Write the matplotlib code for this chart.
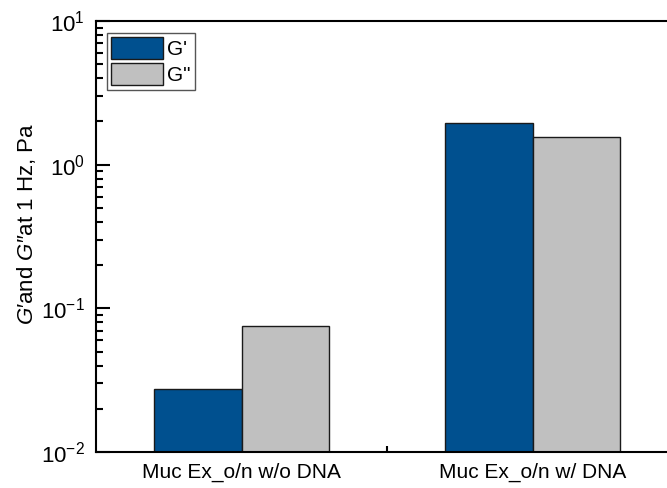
import numpy as np
import matplotlib
matplotlib.use("Agg")
import matplotlib.pyplot as plt
from matplotlib.ticker import LogLocator, FixedLocator, NullFormatter

plt.rcParams['font.family'] = ['Liberation Sans', 'DejaVu Sans']
plt.rcParams['mathtext.fontset'] = 'custom'
plt.rcParams['mathtext.rm'] = 'Liberation Sans'
plt.rcParams['mathtext.it'] = 'Liberation Sans:italic'

# Veriler
categories = ["Muc Ex_o/n w/o DNA", "Muc Ex_o/n w/ DNA"]
g_storage = [0.0275, 1.96]   # G'
g_loss = [0.0755, 1.57]      # G"
series_labels = ["G'", 'G"']

fig = plt.figure(figsize=(6.67, 4.88), dpi=100)
ax = fig.add_axes([96 / 667, 36 / 488, 582 / 667, 431 / 488])

x = np.arange(len(categories))
w = 0.3
ax.bar(x - w / 2, g_storage, width=w, color='#00508F', edgecolor='#1a1a1a',
       linewidth=1.0, label=series_labels[0], zorder=2)
ax.bar(x + w / 2, g_loss, width=w, color='#C0C0C0', edgecolor='#1a1a1a',
       linewidth=1.0, label=series_labels[1], zorder=2)

ax.set_yscale('log')
ax.set_ylim(1e-2, 1e1)
ax.set_xlim(-0.5, 1.5)

ax.set_xticks(x)
ax.set_xticklabels(categories, fontsize=15)
ax.xaxis.set_minor_locator(FixedLocator([0.5]))
ax.tick_params(axis='x', which='major', length=0, pad=8)
ax.tick_params(axis='x', which='minor', direction='in', length=4, width=1.5)

ax.yaxis.set_major_locator(LogLocator(base=10))
ax.yaxis.set_minor_locator(LogLocator(base=10, subs=np.arange(2, 10)))
ax.yaxis.set_minor_formatter(NullFormatter())
ax.tick_params(axis='y', which='major', direction='in', length=10, width=1.5,
               labelsize=16, pad=8)
ax.tick_params(axis='y', which='minor', direction='in', length=5, width=1.5)

for side in ['left', 'bottom', 'top']:
    ax.spines[side].set_linewidth(1.5)
ax.spines['right'].set_visible(False)

ax.set_ylabel("$G$\u2032and $G$\u2033at 1 Hz, Pa", fontsize=16)
ax.yaxis.set_label_coords(-0.1, 0.53)

leg = ax.legend(loc='upper left', bbox_to_anchor=(0.019, 0.972), borderaxespad=0,
                fontsize=15, fancybox=False, framealpha=1, edgecolor='#555555',
                handlelength=2.5, handleheight=1.25, labelspacing=0.2,
                borderpad=0.2, handletextpad=0.2)
leg.get_frame().set_linewidth(1.0)

fig.savefig('out.png', dpi=100)
